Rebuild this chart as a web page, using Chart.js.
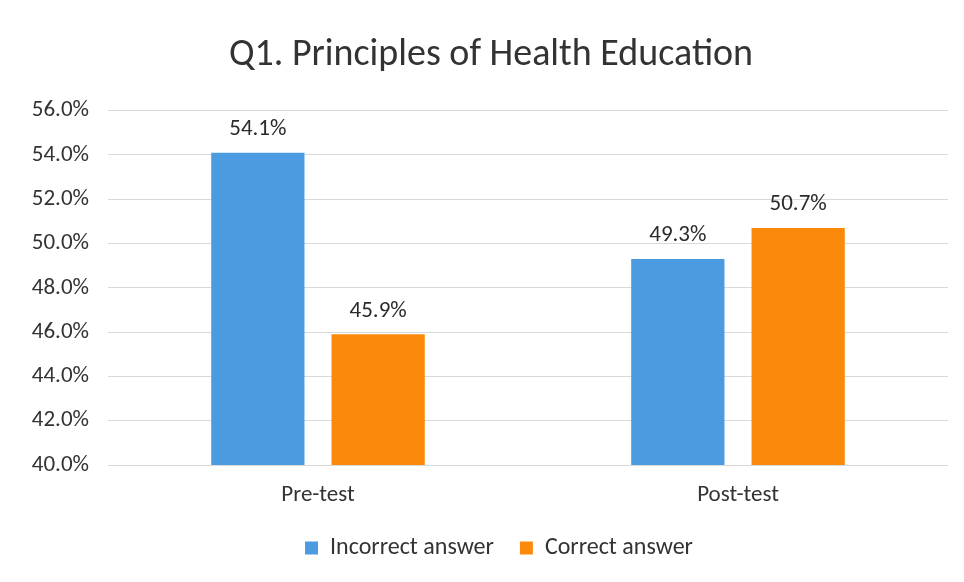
<!DOCTYPE html>
<html>
<head>
<meta charset="utf-8">
<script src="https://cdn.jsdelivr.net/npm/chart.js@4/dist/chart.umd.min.js"></script>
<style>
  html, body { margin:0; padding:0; background:#fff; }
  #wrap { width:964px; height:582px; position:relative; }
</style>
</head>
<body>
<div id="wrap"><canvas id="chart"></canvas></div>
<script>
// data
const categories = ['Pre-test', 'Post-test'];
const incorrect = [54.1, 49.3];
const correct = [45.9, 50.7];
const seriesNames = ['Incorrect answer', 'Correct answer'];
const yMin = 40, yMax = 56, yStep = 2;

const font = "Calibri, Carlito, 'Open Sans', 'Noto Sans', sans-serif";

// value labels above each bar
const barLabels = {
  id: 'barLabels',
  afterDatasetsDraw(chart){
    const ctx = chart.ctx;
    ctx.save();
    ctx.font = `23px ${font}`;
    ctx.fillStyle = '#2b2b2b';
    ctx.textAlign = 'center';
    ctx.textBaseline = 'bottom';
    chart.data.datasets.forEach((ds, i) => {
      chart.getDatasetMeta(i).data.forEach((bar, j) => {
        ctx.fillText(ds.data[j].toFixed(1) + '%', bar.x, bar.y - 12);
      });
    });
    ctx.restore();
  }
};

// nudge title and legend a little right, like the original
const nudge = {
  id: 'nudge',
  afterLayout(chart){
    if(chart.titleBlock){ chart.titleBlock.left += 10; chart.titleBlock.right += 10; }
    if(chart.legend){ chart.legend.left += 18; chart.legend.right += 18; chart.legend.adjustHitBoxes(); }
  }
};

new Chart(document.getElementById('chart'), {
  type: 'bar',
  data: {
    labels: categories,
    datasets: [
      { label: seriesNames[0], data: incorrect, backgroundColor: '#4a9be0' },
      { label: seriesNames[1], data: correct, backgroundColor: '#fb8a0a' }
    ]
  },
  options: {
    responsive: true,
    maintainAspectRatio: false,
    animation: false,
    layout: { padding: { left: 14, right: 16, top: 33, bottom: 12 } },
    datasets: { bar: { categoryPercentage: 0.573, barPercentage: 0.775 } },
    plugins: {
      title: {
        display: true,
        text: 'Q1. Principles of Health Education',
        color: '#333',
        font: { family: font, size: 38, weight: 'normal' },
        padding: { top: 0, bottom: 32 }
      },
      legend: {
        position: 'bottom',
        labels: {
          color: '#333',
          font: { family: font, size: 24 },
          boxWidth: 13, boxHeight: 13,
          padding: 26
        }
      },
      tooltip: { enabled: false }
    },
    scales: {
      x: {
        afterFit: s => { s.height = 45; },
        grid: { display: false },
        border: { display: false },
        ticks: { color: '#333', font: { family: font, size: 23 }, padding: 8 }
      },
      y: {
        min: yMin, max: yMax,
        afterFit: s => { s.width = 94; },
        grid: { color: '#d9d9d9', drawTicks: false },
        border: { display: false },
        ticks: {
          stepSize: yStep,
          color: '#333',
          padding: 19,
          font: { family: font, size: 23 },
          callback: v => v.toFixed(1) + '%'
        }
      }
    }
  },
  plugins: [barLabels, nudge]
});
</script>
</body>
</html>
